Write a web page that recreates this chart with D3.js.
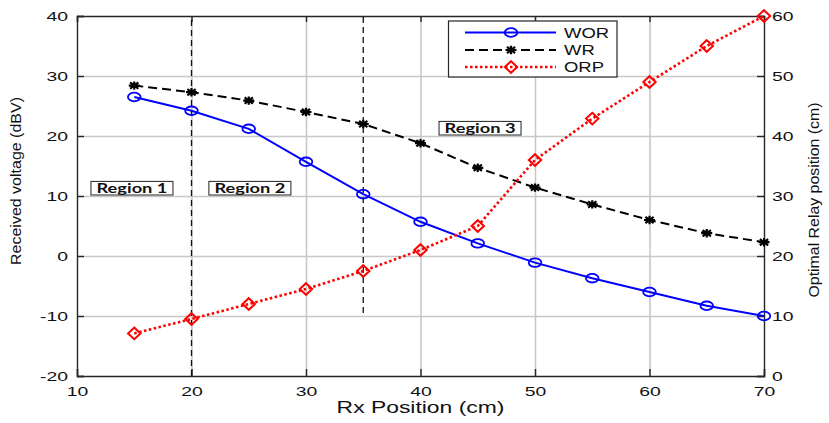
<!DOCTYPE html>
<html lang="en">
  <head>
    <meta charset="UTF-8" />
    <title>Received voltage vs Rx position</title>
    <style>
      body { margin: 0; background: #fff; }
      svg { display: block; }
    </style>
  </head>
  <body>
    <div id="chart"></div>

  <script src="https://cdn.jsdelivr.net/npm/d3@7"></script>
  <script>

// data
var rxPosition = [15, 20, 25, 30, 35, 40, 45, 50, 55, 60, 65, 70];
var worVolt = [26.5, 24.2, 21.2, 15.7, 10.3, 5.7, 2.1, -1.1, -3.7, -6.0, -8.3, -10.0];
var wrVolt = [28.4, 27.3, 25.9, 24.0, 22.0, 18.8, 14.7, 11.4, 8.6, 6.0, 3.8, 2.3];
var orpPos = [7.1, 9.5, 12.0, 14.5, 17.5, 21.0, 25.0, 36.0, 42.9, 49.0, 55.0, 60.0];

var seriesNames = ["WOR", "WR", "ORP"];

var xTicks = [10, 20, 30, 40, 50, 60, 70];
var yLeftTicks = [-20, -10, 0, 10, 20, 30, 40];
var yRightTicks = [0, 10, 20, 30, 40, 50, 60];

// region dividers (x, from, to in left axis units) and labels
var dividerX = [20, 35];
var dividerFrom = [-20, -9.5];
var dividerTo = [40, 40];
var regionNames = ["Region 1", "Region 2", "Region 3"];
var regionX = [14.8, 25.1, 45.2];
var regionY = [11.3, 11.3, 21.3];

var w = 829;
var h = 423;
var pLeft = 77, pRight = 764, pTop = 16, pBottom = 376;
var sx = 1.55;   // the picture's text is stretched sideways

var svg = d3.select("#chart").append("svg")
            .attr("width", w)
            .attr("height", h);

var x = d3.scaleLinear().domain([10, 70]).range([pLeft, pRight]);
var yL = d3.scaleLinear().domain([-20, 40]).range([pBottom, pTop]);
var yR = d3.scaleLinear().domain([0, 60]).range([pBottom, pTop]);

// grid
svg.append("g")
   .attr("transform", "translate(0," + pBottom + ")")
   .call(d3.axisBottom(x).tickValues(xTicks.slice(1, -1)).tickSize(-(pBottom - pTop)).tickFormat(""))
   .call(function(g) { g.select(".domain").remove(); })
   .selectAll("line").attr("stroke", "#c8c8c8").attr("stroke-width", 1.6);

svg.append("g")
   .attr("transform", "translate(" + pLeft + ",0)")
   .call(d3.axisLeft(yL).tickValues(yLeftTicks.slice(1, -1)).tickSize(-(pRight - pLeft)).tickFormat(""))
   .call(function(g) { g.select(".domain").remove(); })
   .selectAll("line").attr("stroke", "#c8c8c8").attr("stroke-width", 1.6);

// axes
var axisColor = "#262626";
var tickFont = "Liberation Sans, Arial, sans-serif";
var plain = function(d) { return String(d); };

var gx = svg.append("g")
   .attr("transform", "translate(0," + pBottom + ")")
   .call(d3.axisBottom(x).tickValues(xTicks).tickSize(-7).tickFormat(plain));

var gxTop = svg.append("g")
   .attr("transform", "translate(0," + pTop + ")")
   .call(d3.axisTop(x).tickValues(xTicks).tickSize(-6).tickFormat(""));

var gyL = svg.append("g")
   .attr("transform", "translate(" + pLeft + ",0)")
   .call(d3.axisLeft(yL).tickValues(yLeftTicks).tickSize(-7).tickFormat(plain));

var gyR = svg.append("g")
   .attr("transform", "translate(" + pRight + ",0)")
   .call(d3.axisRight(yR).tickValues(yRightTicks).tickSize(-7).tickFormat(plain));

[gx, gxTop, gyL, gyR].forEach(function(g) {
  g.select(".domain").attr("stroke", axisColor).attr("stroke-width", 1.4);
  g.selectAll(".tick line").attr("stroke", axisColor).attr("stroke-width", 1.4);
  g.selectAll("text")
   .attr("fill", "#111")
   .style("font-family", tickFont)
   .style("font-size", "12.5px")
   .attr("transform", "scale(" + sx + ",1)");
});
gx.selectAll("text").attr("y", 11);
gyL.selectAll("text").attr("x", -9 / sx);
gyR.selectAll("text").attr("x", 8 / sx);

// axis titles
svg.append("text")
   .text("Rx Position (cm)")
   .attr("text-anchor", "middle")
   .attr("transform", "translate(" + ((pLeft + pRight) / 2) + ",413) scale(1.43,1)")
   .style("font-family", tickFont)
   .style("font-size", "16px")
   .attr("fill", "#111");

svg.append("text")
   .text("Received voltage (dBV)")
   .attr("text-anchor", "middle")
   .attr("transform", "translate(21,181) rotate(-90)")
   .attr("textLength", 168)
   .attr("lengthAdjust", "spacingAndGlyphs")
   .style("font-family", tickFont)
   .style("font-size", "14px")
   .attr("fill", "#111");

svg.append("text")
   .text("Optimal Relay position (cm)")
   .attr("text-anchor", "middle")
   .attr("transform", "translate(819,200) rotate(-90)")
   .attr("textLength", 195)
   .attr("lengthAdjust", "spacingAndGlyphs")
   .style("font-family", tickFont)
   .style("font-size", "14px")
   .attr("fill", "#111");

// region dividers
svg.selectAll("line.divider")
   .data(dividerX)
   .enter()
   .append("line")
   .attr("class", "divider")
   .attr("x1", function(d) { return x(d); })
   .attr("x2", function(d) { return x(d); })
   .attr("y1", function(d, i) { return yL(dividerFrom[i]); })
   .attr("y2", function(d, i) { return yL(dividerTo[i]); })
   .attr("stroke", "#111")
   .attr("stroke-width", 1.3)
   .attr("stroke-dasharray", "6,4");

// region labels
var regions = svg.selectAll("g.region")
   .data(regionNames)
   .enter()
   .append("g")
   .attr("class", "region")
   .attr("transform", function(d, i) { return "translate(" + x(regionX[i]) + "," + yL(regionY[i]) + ")"; });

regions.append("rect")
   .attr("x", -41).attr("y", -6.8)
   .attr("width", 82).attr("height", 13.6)
   .attr("fill", "#fff")
   .attr("stroke", "#222")
   .attr("stroke-width", 1);

regions.append("text")
   .text(function(d) { return d; })
   .attr("text-anchor", "middle")
   .attr("y", 4.6)
   .attr("textLength", 71)
   .attr("lengthAdjust", "spacingAndGlyphs")
   .style("font-family", "Lato, 'Open Sans', sans-serif")
   .style("font-weight", "bold")
   .style("font-size", "13px")
   .attr("fill", "#111");

// markers
function drawCircle(g, cx, cy) {
  g.append("ellipse").attr("cx", cx).attr("cy", cy).attr("rx", 6.3).attr("ry", 4.3)
   .attr("fill", "none").attr("stroke", "#0000ff").attr("stroke-width", 1.8);
}
function drawStar(g, cx, cy) {
  var a = 5.5, b = 4.2;
  var p = "M" + (-a) + ",0L" + a + ",0M0," + (-b) + "L0," + b +
          "M" + (-a * 0.75) + "," + (-b * 0.75) + "L" + (a * 0.75) + "," + (b * 0.75) +
          "M" + (-a * 0.75) + "," + (b * 0.75) + "L" + (a * 0.75) + "," + (-b * 0.75);
  g.append("path").attr("d", p).attr("transform", "translate(" + cx + "," + cy + ")")
   .attr("stroke", "#000").attr("stroke-width", 2.2).attr("fill", "none");
}
function drawDiamond(g, cx, cy) {
  var a = 6.2, b = 5.8;
  g.append("path").attr("d", "M0," + (-b) + "L" + a + ",0L0," + b + "L" + (-a) + ",0Z")
   .attr("transform", "translate(" + cx + "," + cy + ")")
   .attr("fill", "none").attr("stroke", "#ff0000").attr("stroke-width", 2);
}

var leftLine = d3.line().x(function(d, i) { return x(rxPosition[i]); }).y(function(d) { return yL(d); });
var rightLine = d3.line().x(function(d, i) { return x(rxPosition[i]); }).y(function(d) { return yR(d); });

svg.append("path").datum(worVolt).attr("d", leftLine)
   .attr("fill", "none").attr("stroke", "#0000ff").attr("stroke-width", 2);
svg.append("path").datum(wrVolt).attr("d", leftLine)
   .attr("fill", "none").attr("stroke", "#000").attr("stroke-width", 2).attr("stroke-dasharray", "9,5");
svg.append("path").datum(orpPos).attr("d", rightLine)
   .attr("fill", "none").attr("stroke", "#ff0000").attr("stroke-width", 2.6).attr("stroke-dasharray", "2.5,2.5");

var marks = svg.append("g");
rxPosition.forEach(function(d, i) {
  drawCircle(marks, x(d), yL(worVolt[i]));
  drawStar(marks, x(d), yL(wrVolt[i]));
  drawDiamond(marks, x(d), yR(orpPos[i]));
});

// legend
var legend = svg.append("g");
legend.append("rect")
   .attr("x", 448.5).attr("y", 21).attr("width", 168.5).attr("height", 56)
   .attr("fill", "#fff").attr("stroke", "#262626").attr("stroke-width", 1.2);

var legendY = [32.5, 50, 67];
var legendStroke = ["#0000ff", "#000", "#ff0000"];
var legendDash = [null, "9,5", "2.5,2.5"];
var legendWidth = [2, 2, 2.6];
var legendMarker = [drawCircle, drawStar, drawDiamond];

seriesNames.forEach(function(name, i) {
  legend.append("line")
     .attr("x1", 465).attr("x2", 556)
     .attr("y1", legendY[i]).attr("y2", legendY[i])
     .attr("stroke", legendStroke[i])
     .attr("stroke-width", legendWidth[i])
     .attr("stroke-dasharray", legendDash[i]);
  legendMarker[i](legend, 511, legendY[i]);
  legend.append("text")
     .text(name)
     .attr("transform", "translate(564," + (legendY[i] + 5) + ") scale(1.32,1)")
     .style("font-family", tickFont)
     .style("font-size", "14px")
     .attr("fill", "#111");
});

</script>

  </body>
</html>
